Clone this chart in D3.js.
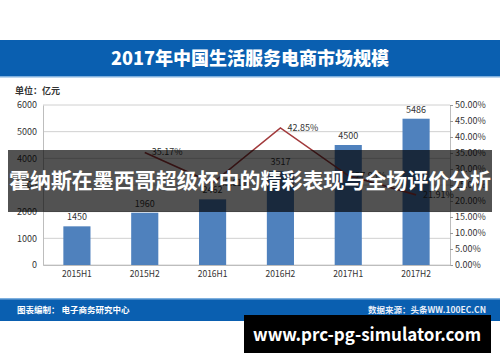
<!DOCTYPE html>
<html><head><meta charset="utf-8">
<script src="https://cdn.jsdelivr.net/npm/d3@7"></script>
<style>
html,body{margin:0;padding:0;background:#fff;}
svg{display:block;}
text{font-family:"Noto Sans CJK SC","Noto Sans",sans-serif;}
</style></head>
<body>
<script>
const categories = ["2015H1","2015H2","2016H1","2016H2","2017H1","2017H2"];
const marketSize = [1450,1960,2462,3517,4500,5486];
const growthCats = ["2015H2","2016H1","2016H2","2017H1","2017H2"];
const growthRate = [35.17,25.61,42.85,27.95,21.91];
const leftTicks = [0,1000,2000,3000,4000,5000,6000];
const rightTicks = [0,5,10,15,20,25,30,35,40,45,50];

const W=500,H=362;
const svg=d3.select("body").append("svg").attr("width",W).attr("height",H);

// title bar
svg.append("rect").attr("x",0).attr("y",40).attr("width",W).attr("height",37).attr("fill","#0a5fb0");
svg.append("rect").attr("x",0).attr("y",76).attr("width",W).attr("height",1.5).attr("fill","#7fb0de");
svg.append("text").attr("x",250).attr("y",65).attr("text-anchor","middle")
  .attr("fill","#fff").attr("font-size",18).attr("font-weight","900")
  .text("2017年中国生活服务电商市场规模");

svg.append("text").attr("x",15).attr("y",94).attr("fill","#333").attr("font-size",9).attr("font-weight","bold")
  .text("单位：亿元");

const x0=43,x1=450,yTop=105,yBot=265;
const x=d3.scaleBand().domain(categories).range([x0,x1]).paddingInner(0.6).paddingOuter(0.3);
const y=d3.scaleLinear().domain([0,6000]).range([yBot,yTop]);
const y2=d3.scaleLinear().domain([0,50]).range([yBot,yTop]);

// gridlines
svg.append("g").selectAll("line").data(leftTicks).join("line")
  .attr("x1",x0).attr("x2",x1).attr("y1",d=>y(d)).attr("y2",d=>y(d))
  .attr("stroke","#d0d0d0").attr("stroke-width",1);

// left axis
const la=svg.append("g").attr("transform",`translate(${x0},0)`)
  .call(d3.axisLeft(y).tickValues(leftTicks).tickSize(0).tickPadding(6).tickFormat(d3.format("d")));
la.select(".domain").attr("stroke","#bdbdbd");
la.selectAll("text").attr("font-size",9).attr("fill","#333").attr("font-family","Liberation Sans, Arial, sans-serif");

// right axis
const ra=svg.append("g").attr("transform",`translate(${x1},0)`)
  .call(d3.axisRight(y2).tickValues(rightTicks).tickSize(3).tickPadding(2).tickFormat(d=>d.toFixed(2)+"%"));
ra.select(".domain").attr("stroke","#bdbdbd");
ra.selectAll("line").attr("stroke","#999");
ra.selectAll("text").attr("font-size",9).attr("fill","#333").attr("font-family","Liberation Sans, Arial, sans-serif");

// bottom axis
const ba=svg.append("g").attr("transform",`translate(0,${yBot})`)
  .call(d3.axisBottom(x).tickSize(0).tickPadding(6));
ba.select(".domain").attr("stroke","#bdbdbd");
ba.selectAll("text").attr("font-size",8.5).attr("fill","#333").attr("font-family","Liberation Sans, Arial, sans-serif");

// bars
svg.append("g").selectAll("rect").data(categories).join("rect")
  .attr("x",d=>x(d)).attr("width",x.bandwidth())
  .attr("y",(d,i)=>y(marketSize[i])).attr("height",(d,i)=>yBot-y(marketSize[i]))
  .attr("fill","#4f81bd");
svg.append("g").selectAll("text").data(categories).join("text")
  .attr("x",d=>x(d)+x.bandwidth()/2).attr("y",(d,i)=>y(marketSize[i])-6)
  .attr("text-anchor","middle").attr("font-size",9).attr("fill","#333")
  .attr("font-family","Liberation Sans, Arial, sans-serif")
  .text((d,i)=>marketSize[i]);

// line
const cx=d=>x(d)+x.bandwidth()/2;
const line=d3.line().x((d,i)=>cx(growthCats[i])).y(d=>y2(d));
svg.append("path").datum(growthRate).attr("d",line).attr("fill","none")
  .attr("stroke","#a23a3c").attr("stroke-width",1.6);
svg.append("g").selectAll("text").data(growthRate).join("text")
  .attr("x",(d,i)=>cx(growthCats[i])+7).attr("y",d=>y2(d)+3)
  .attr("font-size",9).attr("fill","#333").attr("font-family","Liberation Sans, Arial, sans-serif")
  .text(d=>d.toFixed(2)+"%");

// bottom bar
svg.append("rect").attr("x",0).attr("y",299).attr("width",W).attr("height",22).attr("fill","#0a5fb0");
svg.append("rect").attr("x",0).attr("y",298).attr("width",W).attr("height",1.5).attr("fill","#7fb0de");
svg.append("text").attr("x",17).attr("y",313).attr("fill","#fff").attr("font-size",8.5).attr("font-weight","bold")
  .text("图表编制：  电子商务研究中心");
svg.append("text").attr("x",486).attr("y",313).attr("text-anchor","end").attr("fill","#e8eef8").attr("font-size",8.5).attr("font-weight","bold")
  .text("数据来源：头条WW.100EC.CN");

// overlay band
svg.append("rect").attr("x",8).attr("y",150).attr("width",484).attr("height",62).attr("fill","rgba(0,0,0,0.68)");
svg.append("text").attr("x",250).attr("y",188).attr("text-anchor","middle")
  .attr("fill","#fff").attr("font-size",21).attr("font-weight","bold")
  .attr("textLength",482).attr("lengthAdjust","spacingAndGlyphs")
  .text("霍纳斯在墨西哥超级杯中的精彩表现与全场评价分析");

// watermark box
svg.append("rect").attr("x",244).attr("y",315).attr("width",247).attr("height",38).attr("fill","#000");
svg.append("text").attr("x",367).attr("y",341).attr("text-anchor","middle")
  .attr("fill","#fff").attr("font-size",18).attr("font-weight","bold")
  .attr("font-family","DejaVu Sans, sans-serif")
  .attr("textLength",228).attr("lengthAdjust","spacingAndGlyphs")
  .text("www.prc-pg-simulator.com");
</script>
</body></html>
